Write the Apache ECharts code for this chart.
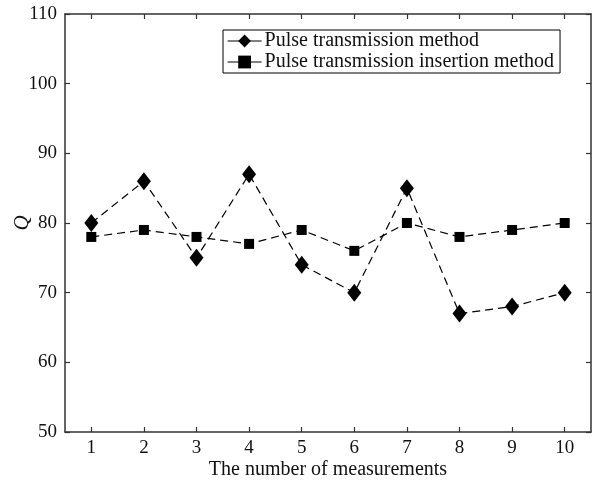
<!DOCTYPE html>
<html>
<head>
<meta charset="utf-8">
<script src="https://cdn.jsdelivr.net/npm/echarts@6/dist/echarts.min.js"></script>
<style>
  html, body { margin: 0; padding: 0; background: #fff; }
  #chart { width: 592px; height: 481px; }
</style>
</head>
<body>
<div id="chart"></div>
<script>
// values
var measurements = ['1', '2', '3', '4', '5', '6', '7', '8', '9', '10'];
var pulseTransmission = [80, 86, 75, 87, 74, 70, 85, 67, 68, 70];
var pulseInsertion = [78, 79, 78, 77, 79, 76, 80, 78, 79, 80];
var yTicks = [50, 60, 70, 80, 90, 100, 110];

var font = 'Liberation Serif';
var ink = '#111';

var chart = echarts.init(document.getElementById('chart'));

var axisLine = { show: true, lineStyle: { color: '#333', width: 1.5 } };
var tick = { show: true, inside: true, length: 5, alignWithLabel: true, lineStyle: { color: '#333', width: 1.2 } };

chart.setOption({
  animation: false,
  backgroundColor: '#fff',
  grid: { left: 65, top: 14, right: 1, bottom: 49, containLabel: false, outerBoundsMode: 'none' },
  legend: {
    left: 223, top: 30,
    orient: 'vertical',
    itemGap: 1,
    itemWidth: 34, itemHeight: 16,
    padding: [1, 6, 1, 4],
    borderColor: '#000', borderWidth: 1,
    backgroundColor: '#fff',
    textStyle: { fontFamily: font, fontSize: 20, color: ink, padding: [0, 0, 0, -2] },
    lineStyle: { type: 'solid', width: 1.2 },
    data: ['Pulse transmission method', 'Pulse transmission insertion method']
  },
  xAxis: [{
    type: 'category', data: measurements, boundaryGap: true,
    name: 'The number of measurements',
    nameLocation: 'middle', nameGap: 28, nameMoveOverlap: false,
    nameTextStyle: { fontFamily: font, fontSize: 20, color: ink },
    axisLine: axisLine, axisTick: tick,
    axisLabel: { fontFamily: font, fontSize: 19, color: ink, margin: 7 },
    splitLine: { show: false }
  }, {
    type: 'category', data: measurements, boundaryGap: true, position: 'top',
    axisLine: axisLine, axisTick: tick, axisLabel: { show: false }, splitLine: { show: false }
  }],
  yAxis: [{
    type: 'value', min: yTicks[0], max: yTicks[yTicks.length - 1], interval: 10,
    name: 'Q',
    nameLocation: 'middle', nameGap: 32, nameMoveOverlap: false,
    nameTextStyle: { fontFamily: font, fontSize: 21, fontStyle: 'italic', color: ink },
    axisLine: axisLine, axisTick: tick,
    axisLabel: { fontFamily: font, fontSize: 19, color: ink, margin: 8 },
    splitLine: { show: false }
  }, {
    type: 'value', min: yTicks[0], max: yTicks[yTicks.length - 1], interval: 10, position: 'right',
    axisLine: axisLine, axisTick: tick, axisLabel: { show: false }, splitLine: { show: false }
  }],
  series: [{
    name: 'Pulse transmission method',
    type: 'line',
    data: pulseTransmission,
    symbol: 'diamond', symbolSize: [14, 18],
    itemStyle: { color: '#000' },
    lineStyle: { color: '#000', width: 1.2, type: [8, 5] },
    z: 3
  }, {
    name: 'Pulse transmission insertion method',
    type: 'line',
    data: pulseInsertion,
    symbol: 'rect', symbolSize: 10,
    itemStyle: { color: '#000' },
    lineStyle: { color: '#000', width: 1.2, type: [8, 5] },
    z: 2
  }]
});
</script>
</body>
</html>
